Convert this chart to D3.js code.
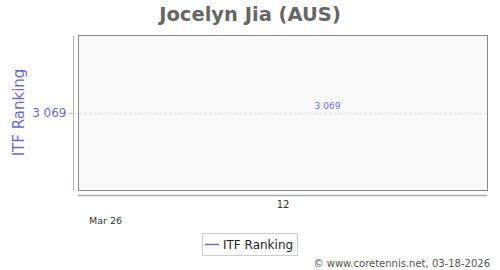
<!DOCTYPE html>
<html>
<head>
<meta charset="utf-8">
<script src="https://cdn.jsdelivr.net/npm/d3@7"></script>
<style>
  body { margin: 0; background: #fff; }
  text { font-family: "DejaVu Sans", sans-serif; }
</style>
</head>
<body>
<div id="chart"></div>
<script>
const dates = ["2026-03-12"];
const itfRanking = [3069];
const yTicks = [3069];
const monthLabel = "Mar 26";

const W = 500, H = 270;
const plot = { left: 78, right: 487, top: 35, bottom: 190 };

const parse = d3.timeParse("%Y-%m-%d");
const data = dates.map((d, i) => ({ date: parse(d), value: itfRanking[i] }));

const fmt = v => d3.format(",")(v).replace(/,/g, " ");

const svg = d3.select("#chart").append("svg")
  .attr("width", W).attr("height", H);

// single point: pad the domain evenly around it
const day = 24 * 3600 * 1000;
const x = d3.scaleTime()
  .domain([new Date(+data[0].date - 15 * day), new Date(+data[0].date + 15 * day)])
  .range([plot.left, plot.right]);
const y = d3.scaleLinear()
  .domain([itfRanking[0] - 1, itfRanking[0] + 1])
  .range([plot.bottom, plot.top]);

// === Title ===
svg.append("text")
  .attr("x", 250).attr("y", 21)
  .attr("text-anchor", "middle")
  .style("font-size", "19.5px")
  .style("font-weight", "bold")
  .style("fill", "#666")
  .text("Jocelyn Jia (AUS)");

// === Plot area ===
svg.append("rect")
  .attr("x", plot.left + 0.5).attr("y", plot.top + 0.5)
  .attr("width", plot.right - plot.left).attr("height", plot.bottom - plot.top)
  .attr("fill", "#f9f9f9")
  .attr("stroke", "#888");

// gridlines
svg.append("g").selectAll("line")
  .data(yTicks).enter().append("line")
  .attr("x1", plot.left + 1).attr("x2", plot.right)
  .attr("y1", d => Math.round(y(d)) + 0.5).attr("y2", d => Math.round(y(d)) + 0.5)
  .attr("stroke", "#ddd")
  .attr("stroke-dasharray", "3,2");

// === Y axis ===
const yAxis = svg.append("g")
  .attr("transform", `translate(${plot.left - 4.5},0.5)`)
  .call(d3.axisLeft(y).tickValues(yTicks).tickFormat(fmt).tickSize(4).tickPadding(3));
yAxis.select(".domain")
  .attr("d", `M0,${plot.top}V${plot.bottom}`)
  .attr("stroke", "#b8b8e0");
yAxis.selectAll(".tick line").attr("stroke", "#b8b8e0");
yAxis.selectAll(".tick text")
  .style("font-size", "12px")
  .style("fill", "#6b6bd0");

svg.append("text")
  .attr("transform", `translate(24,${(plot.top + plot.bottom) / 2}) rotate(-90)`)
  .attr("text-anchor", "middle")
  .style("font-size", "15px")
  .style("fill", "#6b6bd0")
  .text("ITF Ranking");

// === X axis ===
const xAxis = svg.append("g")
  .attr("transform", `translate(0,${plot.bottom + 5})`)
  .call(d3.axisBottom(x).tickValues(data.map(d => d.date)).tickFormat(d3.timeFormat("%d")).tickSize(0).tickPadding(6));
xAxis.select(".domain")
  .attr("d", `M${plot.left},0.5H${plot.right}`)
  .attr("stroke", "#aaa")
  .attr("stroke-width", 1.5);
xAxis.selectAll(".tick text")
  .style("font-size", "10px")
  .style("fill", "#333");

svg.append("text")
  .attr("x", plot.left + 11).attr("y", 224)
  .style("font-size", "9.5px")
  .style("fill", "#333")
  .text(monthLabel);

// === Series ===
const line = d3.line().x(d => x(d.date)).y(d => y(d.value));
svg.append("path")
  .datum(data)
  .attr("d", line)
  .attr("fill", "none")
  .attr("stroke", "#6b6bd0")
  .attr("stroke-width", 1.5);

svg.append("g").selectAll("text")
  .data(data).enter().append("text")
  .attr("x", d => x(d.date) + 45)
  .attr("y", d => y(d.value) - 4)
  .attr("text-anchor", "middle")
  .style("font-size", "9px")
  .style("fill", "#6b6bd0")
  .text(d => fmt(d.value));

// === Legend ===
const legend = svg.append("g").attr("transform", "translate(202,233)");
legend.append("rect")
  .attr("x", 0.5).attr("y", 0.5)
  .attr("width", 95).attr("height", 22)
  .attr("fill", "#fff")
  .attr("stroke", "#ccc");
legend.append("line")
  .attr("x1", 3).attr("x2", 17)
  .attr("y1", 11.5).attr("y2", 11.5)
  .attr("stroke", "#6b6bd0")
  .attr("stroke-width", 1.5);
legend.append("text")
  .attr("x", 21).attr("y", 16)
  .style("font-size", "12px")
  .style("fill", "#222")
  .text("ITF Ranking");

// === Credit ===
svg.append("text")
  .attr("x", 490).attr("y", 267)
  .attr("text-anchor", "end")
  .style("font-size", "10px")
  .style("fill", "#555")
  .text("© www.coretennis.net, 03-18-2026");
</script>
</body>
</html>
